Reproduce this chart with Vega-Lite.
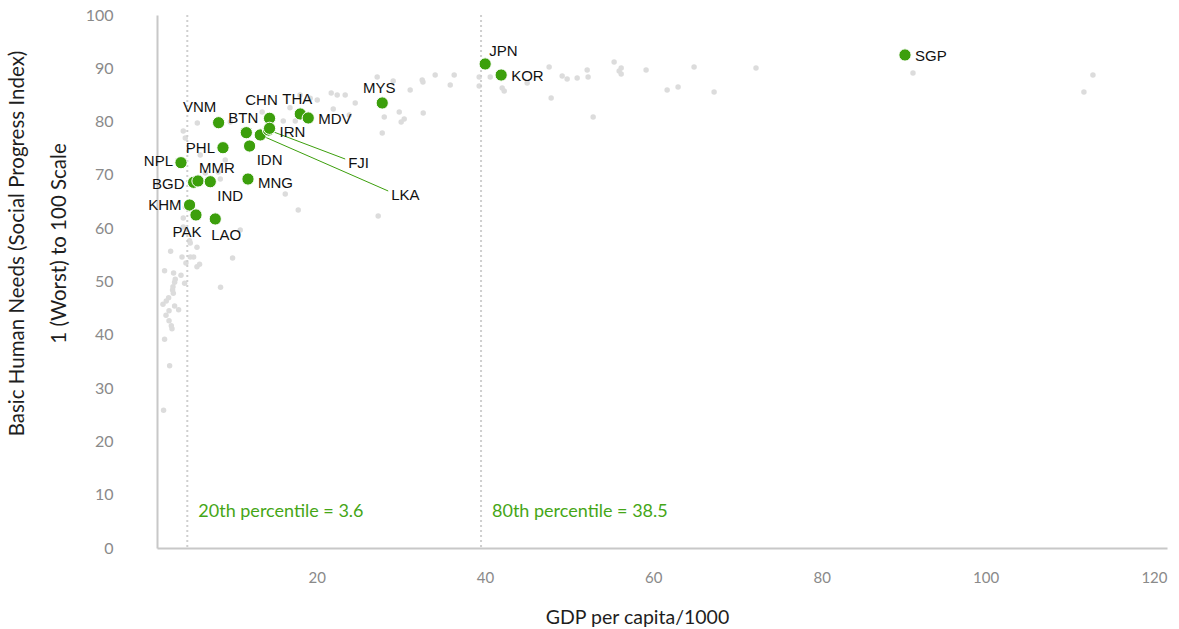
{
  "$schema": "https://vega.github.io/schema/vega-lite/v6.json",
  "autosize": {"type": "none"},
  "padding": {"left": 157, "top": 15, "right": 12, "bottom": 81},
  "width": 1010,
  "height": 533,
  "background": "#ffffff",
  "config": {"view": {"stroke": null}},
  "datasets": {
    "grey": [
      {"x": 26.16, "y": 88.37}, {"x": 28.06, "y": 87.62}, {"x": 31.51, "y": 87.8}, {"x": 31.6, "y": 87.43},
      {"x": 33.05, "y": 88.74}, {"x": 35.31, "y": 88.74}, {"x": 34.84, "y": 86.87}, {"x": 30.08, "y": 85.93},
      {"x": 38.28, "y": 88.37}, {"x": 38.28, "y": 86.68}, {"x": 39.59, "y": 88.37}, {"x": 41.01, "y": 86.3},
      {"x": 41.25, "y": 85.74}, {"x": 43.98, "y": 87.24}, {"x": 46.59, "y": 90.24}, {"x": 48.14, "y": 88.56},
      {"x": 48.73, "y": 88.0}, {"x": 49.92, "y": 88.18}, {"x": 51.11, "y": 89.68}, {"x": 51.22, "y": 88.37},
      {"x": 54.31, "y": 91.18}, {"x": 46.83, "y": 84.43}, {"x": 51.82, "y": 80.86}, {"x": 55.15, "y": 90.06},
      {"x": 54.91, "y": 89.49}, {"x": 55.15, "y": 88.93}, {"x": 58.11, "y": 89.68}, {"x": 60.61, "y": 85.93},
      {"x": 61.91, "y": 86.49}, {"x": 63.81, "y": 90.24}, {"x": 66.19, "y": 85.55}, {"x": 71.17, "y": 90.06},
      {"x": 89.82, "y": 89.12}, {"x": 111.2, "y": 88.74}, {"x": 110.13, "y": 85.55},
      {"x": 20.7, "y": 85.37}, {"x": 21.41, "y": 84.99}, {"x": 22.36, "y": 84.99}, {"x": 23.55, "y": 83.49},
      {"x": 20.94, "y": 82.36}, {"x": 22.84, "y": 81.24}, {"x": 28.78, "y": 81.8}, {"x": 29.37, "y": 80.49},
      {"x": 29.01, "y": 79.92}, {"x": 31.63, "y": 81.61}, {"x": 27.0, "y": 80.86}, {"x": 26.76, "y": 77.86},
      {"x": 19.04, "y": 84.05}, {"x": 15.0, "y": 80.11}, {"x": 16.43, "y": 80.11}, {"x": 15.24, "y": 66.42},
      {"x": 16.78, "y": 63.41}, {"x": 26.28, "y": 62.29}, {"x": 9.89, "y": 59.66}, {"x": 3.95, "y": 57.22},
      {"x": 3.12, "y": 61.91}, {"x": 3.12, "y": 60.23}, {"x": 4.79, "y": 79.74}, {"x": 3.12, "y": 78.24},
      {"x": 3.36, "y": 76.92}, {"x": 8.71, "y": 79.92}, {"x": 8.11, "y": 72.8}, {"x": 5.14, "y": 73.73},
      {"x": 7.28, "y": 70.54}, {"x": 5.74, "y": 70.36}, {"x": 17.0, "y": 85.0}, {"x": 18.2, "y": 84.4},
      {"x": 12.5, "y": 81.8}, {"x": 15.8, "y": 82.6}, {"x": 7.52, "y": 69.23}, {"x": 3.36, "y": 63.98},
      {"x": 3.87, "y": 57.65}, {"x": 4.75, "y": 56.42}, {"x": 1.62, "y": 55.67}, {"x": 2.97, "y": 54.6},
      {"x": 3.95, "y": 54.6}, {"x": 4.35, "y": 54.6}, {"x": 3.44, "y": 53.47}, {"x": 5.06, "y": 53.23},
      {"x": 4.75, "y": 52.78}, {"x": 8.98, "y": 54.41}, {"x": 0.9, "y": 52.03}, {"x": 1.97, "y": 51.59},
      {"x": 2.85, "y": 51.16}, {"x": 2.17, "y": 50.41}, {"x": 2.09, "y": 49.85}, {"x": 3.28, "y": 49.66},
      {"x": 1.9, "y": 49.02}, {"x": 1.85, "y": 48.41}, {"x": 1.94, "y": 47.79}, {"x": 7.55, "y": 48.91},
      {"x": 1.38, "y": 46.96}, {"x": 1.1, "y": 46.34}, {"x": 0.71, "y": 45.72}, {"x": 2.09, "y": 45.4},
      {"x": 2.57, "y": 44.71}, {"x": 1.43, "y": 44.52}, {"x": 1.07, "y": 43.66}, {"x": 1.43, "y": 42.65},
      {"x": 1.7, "y": 41.71}, {"x": 1.78, "y": 41.14}, {"x": 0.9, "y": 39.16}, {"x": 1.5, "y": 34.2},
      {"x": 0.78, "y": 25.83}
    ],
    "green": [
      {"code": "BGD", "x": 4.35, "y": 68.61},
      {"code": "SGP", "x": 88.87, "y": 92.5},
      {"code": "JPN", "x": 38.99, "y": 90.81},
      {"code": "KOR", "x": 40.89, "y": 88.74},
      {"code": "MYS", "x": 26.76, "y": 83.49},
      {"code": "THA", "x": 17.02, "y": 81.43},
      {"code": "MDV", "x": 17.97, "y": 80.68},
      {"code": "CHN", "x": 13.37, "y": 80.62},
      {"code": "VNM", "x": 7.32, "y": 79.79},
      {"code": "BTN", "x": 10.61, "y": 77.92},
      {"code": "LKA", "x": 12.27, "y": 77.49},
      {"code": "FJI", "x": 13.25, "y": 78.42},
      {"code": "IRN", "x": 13.37, "y": 78.74},
      {"code": "IDN", "x": 11.0, "y": 75.42},
      {"code": "PHL", "x": 7.84, "y": 75.1},
      {"code": "NPL", "x": 2.85, "y": 72.29},
      {"code": "MMR", "x": 4.87, "y": 68.86},
      {"code": "IND", "x": 6.33, "y": 68.72},
      {"code": "MNG", "x": 10.81, "y": 69.23},
      {"code": "KHM", "x": 3.87, "y": 64.35},
      {"code": "PAK", "x": 4.63, "y": 62.48},
      {"code": "LAO", "x": 6.92, "y": 61.73}
    ],
    "leaders": [
      {"code": "FJI", "x": 13.25, "y": 78.42, "lx": 22.36, "ly": 72.98},
      {"code": "LKA", "x": 12.27, "y": 77.49, "lx": 27.47, "ly": 66.98}
    ],
    "pct": [
      {"x": 3.6, "label": "20th percentile = 3.6"},
      {"x": 38.5, "label": "80th percentile = 38.5"}
    ]
  },
  "layer": [
    {
      "data": {"name": "grey"},
      "mark": {"type": "circle", "size": 30, "color": "#dcdcdc", "opacity": 1},
      "encoding": {
        "x": {
          "field": "x", "type": "quantitative",
          "scale": {"domain": [0, 120], "nice": false, "zero": false},
          "axis": {
            "values": [20, 40, 60, 80, 100, 120],
            "title": "GDP per capita/1000",
            "grid": false, "ticks": false, "tickSize": 0,
            "domainColor": "#c8c8c8", "domainWidth": 2,
            "labelAlign": "right", "labelBaseline": "middle", "labelPadding": 29,
            "labelFont": "Lato", "labelFontSize": 15, "labelColor": "#8a8a8a",
            "labelOverlap": false, "labelFlush": false, "labelBound": false,
            "titleFont": "Lato", "titleFontSize": 19.5, "titleFontWeight": "normal", "titleColor": "#1e1e1e",
            "titleX": 480, "titleY": 69, "titleBaseline": "middle", "titleAlign": "center"
          }
        },
        "y": {
          "field": "y", "type": "quantitative",
          "scale": {"domain": [0, 100], "nice": false},
          "axis": {
            "values": [0, 10, 20, 30, 40, 50, 60, 70, 80, 90, 100],
            "title": ["Basic Human Needs (Social Progress Index)", "1 (Worst) to 100 Scale"],
            "grid": false, "ticks": false, "tickSize": 0,
            "domainColor": "#c8c8c8", "domainWidth": 2,
            "labelAlign": "right", "labelBaseline": "middle", "labelPadding": 44,
            "labelFont": "Lato", "labelFontSize": 16, "labelColor": "#8a8a8a",
            "labelOverlap": false, "labelFlush": false, "labelBound": false,
            "titleFont": "Lato", "titleFontSize": 20.5, "titleFontWeight": "normal", "titleColor": "#1e1e1e",
            "titleX": -140, "titleY": 228, "titleBaseline": "middle", "titleAlign": "center",
            "titleLineHeight": 42, "titleAngle": -90
          }
        }
      }
    },
    {
      "data": {"name": "pct"},
      "mark": {"type": "rule", "color": "#cfcfcf", "strokeWidth": 2, "strokeDash": [2, 3]},
      "encoding": {
        "x": {"field": "x", "type": "quantitative"}
      }
    },
    {
      "data": {"name": "pct"},
      "mark": {"type": "text", "align": "left", "baseline": "middle", "dx": 11, "dy": -36, "font": "Lato", "fontSize": 18, "color": "#45a617"},
      "encoding": {
        "x": {"field": "x", "type": "quantitative"},
        "y": {"datum": 0, "type": "quantitative"},
        "text": {"field": "label"}
      }
    },
    {
      "data": {"name": "leaders"},
      "mark": {"type": "rule", "color": "#3c9f0c", "strokeWidth": 1},
      "encoding": {
        "x": {"field": "x", "type": "quantitative"},
        "y": {"field": "y", "type": "quantitative"},
        "x2": {"field": "lx"}, "y2": {"field": "ly"}
      }
    },
    {
      "data": {"name": "leaders"},
      "mark": {"type": "text", "align": "left", "baseline": "middle", "dx": 3, "dy": 4, "font": "Liberation Sans", "fontSize": 15, "color": "#111111"},
      "encoding": {
        "x": {"field": "lx", "type": "quantitative"},
        "y": {"field": "ly", "type": "quantitative"},
        "text": {"field": "code"}
      }
    },
    {
      "data": {"name": "green"},
      "mark": {"type": "circle", "size": 150, "fill": "#3c9f0c", "stroke": "#ffffff", "strokeWidth": 1, "opacity": 1},
      "encoding": {
        "x": {"field": "x", "type": "quantitative"},
        "y": {"field": "y", "type": "quantitative"}
      }
    },
    {
      "data": {"name": "green"},
      "transform": [{"filter": {"field": "code", "oneOf": ["SGP", "KOR", "MDV"]}}],
      "mark": {"type": "text", "align": "left", "baseline": "middle", "dx": 10, "dy": 1, "font": "Liberation Sans", "fontSize": 15, "color": "#111111"},
      "encoding": {"x": {"field": "x", "type": "quantitative"}, "y": {"field": "y", "type": "quantitative"}, "text": {"field": "code"}}
    },
    {
      "data": {"name": "green"},
      "transform": [{"filter": {"field": "code", "oneOf": ["IRN", "MNG"]}}],
      "mark": {"type": "text", "align": "left", "baseline": "middle", "dx": 10, "dy": 4, "font": "Liberation Sans", "fontSize": 15, "color": "#111111"},
      "encoding": {"x": {"field": "x", "type": "quantitative"}, "y": {"field": "y", "type": "quantitative"}, "text": {"field": "code"}}
    },
    {
      "data": {"name": "green"},
      "transform": [{"filter": {"field": "code", "oneOf": ["MYS", "THA", "BTN"]}}],
      "mark": {"type": "text", "align": "center", "baseline": "middle", "dx": -3, "dy": -15, "font": "Liberation Sans", "fontSize": 15, "color": "#111111"},
      "encoding": {"x": {"field": "x", "type": "quantitative"}, "y": {"field": "y", "type": "quantitative"}, "text": {"field": "code"}}
    },
    {
      "data": {"name": "green"},
      "transform": [{"filter": {"field": "code", "oneOf": ["CHN"]}}],
      "mark": {"type": "text", "align": "center", "baseline": "middle", "dx": -8, "dy": -18, "font": "Liberation Sans", "fontSize": 15, "color": "#111111"},
      "encoding": {"x": {"field": "x", "type": "quantitative"}, "y": {"field": "y", "type": "quantitative"}, "text": {"field": "code"}}
    },
    {
      "data": {"name": "green"},
      "transform": [{"filter": {"field": "code", "oneOf": ["VNM"]}}],
      "mark": {"type": "text", "align": "center", "baseline": "middle", "dx": -19, "dy": -16, "font": "Liberation Sans", "fontSize": 15, "color": "#111111"},
      "encoding": {"x": {"field": "x", "type": "quantitative"}, "y": {"field": "y", "type": "quantitative"}, "text": {"field": "code"}}
    },
    {
      "data": {"name": "green"},
      "transform": [{"filter": {"field": "code", "oneOf": ["JPN"]}}],
      "mark": {"type": "text", "align": "left", "baseline": "middle", "dx": 4, "dy": -13, "font": "Liberation Sans", "fontSize": 15, "color": "#111111"},
      "encoding": {"x": {"field": "x", "type": "quantitative"}, "y": {"field": "y", "type": "quantitative"}, "text": {"field": "code"}}
    },
    {
      "data": {"name": "green"},
      "transform": [{"filter": {"field": "code", "oneOf": ["MMR"]}}],
      "mark": {"type": "text", "align": "center", "baseline": "middle", "dx": 19, "dy": -13, "font": "Liberation Sans", "fontSize": 15, "color": "#111111"},
      "encoding": {"x": {"field": "x", "type": "quantitative"}, "y": {"field": "y", "type": "quantitative"}, "text": {"field": "code"}}
    },
    {
      "data": {"name": "green"},
      "transform": [{"filter": {"field": "code", "oneOf": ["PHL", "KHM"]}}],
      "mark": {"type": "text", "align": "right", "baseline": "middle", "dx": -8, "dy": 0, "font": "Liberation Sans", "fontSize": 15, "color": "#111111"},
      "encoding": {"x": {"field": "x", "type": "quantitative"}, "y": {"field": "y", "type": "quantitative"}, "text": {"field": "code"}}
    },
    {
      "data": {"name": "green"},
      "transform": [{"filter": {"field": "code", "oneOf": ["NPL"]}}],
      "mark": {"type": "text", "align": "right", "baseline": "middle", "dx": -8, "dy": -2, "font": "Liberation Sans", "fontSize": 15, "color": "#111111"},
      "encoding": {"x": {"field": "x", "type": "quantitative"}, "y": {"field": "y", "type": "quantitative"}, "text": {"field": "code"}}
    },
    {
      "data": {"name": "green"},
      "transform": [{"filter": {"field": "code", "oneOf": ["BGD"]}}],
      "mark": {"type": "text", "align": "right", "baseline": "middle", "dx": -9, "dy": 2, "font": "Liberation Sans", "fontSize": 15, "color": "#111111"},
      "encoding": {"x": {"field": "x", "type": "quantitative"}, "y": {"field": "y", "type": "quantitative"}, "text": {"field": "code"}}
    },
    {
      "data": {"name": "green"},
      "transform": [{"filter": {"field": "code", "oneOf": ["IDN", "IND"]}}],
      "mark": {"type": "text", "align": "center", "baseline": "middle", "dx": 20, "dy": 14, "font": "Liberation Sans", "fontSize": 15, "color": "#111111"},
      "encoding": {"x": {"field": "x", "type": "quantitative"}, "y": {"field": "y", "type": "quantitative"}, "text": {"field": "code"}}
    },
    {
      "data": {"name": "green"},
      "transform": [{"filter": {"field": "code", "oneOf": ["PAK"]}}],
      "mark": {"type": "text", "align": "center", "baseline": "middle", "dx": -9, "dy": 17, "font": "Liberation Sans", "fontSize": 15, "color": "#111111"},
      "encoding": {"x": {"field": "x", "type": "quantitative"}, "y": {"field": "y", "type": "quantitative"}, "text": {"field": "code"}}
    },
    {
      "data": {"name": "green"},
      "transform": [{"filter": {"field": "code", "oneOf": ["LAO"]}}],
      "mark": {"type": "text", "align": "center", "baseline": "middle", "dx": 11, "dy": 16, "font": "Liberation Sans", "fontSize": 15, "color": "#111111"},
      "encoding": {"x": {"field": "x", "type": "quantitative"}, "y": {"field": "y", "type": "quantitative"}, "text": {"field": "code"}}
    }
  ]
}
